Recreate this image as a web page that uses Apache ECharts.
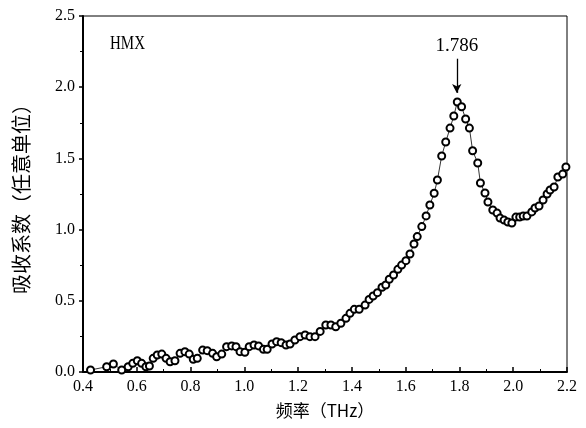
<!DOCTYPE html>
<html>
<head>
<meta charset="utf-8">
<script src="https://cdn.jsdelivr.net/npm/echarts@6/dist/echarts.min.js"></script>
<style>
  html, body { margin: 0; padding: 0; background: #fff; }
  #main { width: 586px; height: 428px; }
</style>
</head>
<body>
<div id="main"></div>
<script>
// 频率 (THz)
var freq = [
  0.428, 0.488, 0.513, 0.544, 0.568, 0.585, 0.602, 0.618, 0.634, 0.647,
  0.661, 0.676, 0.693, 0.709, 0.724, 0.742, 0.761, 0.779, 0.795, 0.810,
  0.825, 0.845, 0.862, 0.882, 0.897, 0.916, 0.934, 0.953, 0.969, 0.984,
  1.002, 1.018, 1.036, 1.053, 1.071, 1.085, 1.103, 1.120, 1.137, 1.155,
  1.170, 1.188, 1.207, 1.226, 1.244, 1.263, 1.282, 1.303, 1.322, 1.340,
  1.359, 1.378, 1.393, 1.409, 1.427, 1.449, 1.464, 1.479, 1.495, 1.512,
  1.526, 1.539, 1.555, 1.571, 1.585, 1.601, 1.616, 1.631, 1.643, 1.660,
  1.676, 1.690, 1.706, 1.718, 1.734, 1.749, 1.765, 1.779, 1.792, 1.808,
  1.823, 1.837, 1.849, 1.868, 1.878, 1.895, 1.906, 1.924, 1.940, 1.951,
  1.966, 1.980, 1.995, 2.010, 2.024, 2.037, 2.051, 2.069, 2.081, 2.096,
  2.111, 2.126, 2.137, 2.152, 2.166, 2.184, 2.196
];
// 吸收系数 (任意单位)
var absorb = [
  0.014, 0.037, 0.056, 0.014, 0.037, 0.061, 0.079, 0.061, 0.037, 0.042,
  0.096, 0.119, 0.126, 0.096, 0.072, 0.079, 0.131, 0.143, 0.126, 0.089,
  0.096, 0.154, 0.150, 0.131, 0.107, 0.126, 0.178, 0.183, 0.178, 0.143,
  0.138, 0.178, 0.190, 0.183, 0.159, 0.159, 0.197, 0.213, 0.206, 0.190,
  0.197, 0.225, 0.248, 0.260, 0.248, 0.248, 0.285, 0.330, 0.330, 0.318,
  0.342, 0.377, 0.412, 0.440, 0.440, 0.470, 0.510, 0.534, 0.557, 0.595,
  0.611, 0.651, 0.681, 0.721, 0.751, 0.782, 0.829, 0.899, 0.951, 1.021,
  1.096, 1.173, 1.255, 1.348, 1.517, 1.615, 1.713, 1.798, 1.896, 1.863,
  1.777, 1.713, 1.554, 1.468, 1.327, 1.257, 1.194, 1.138, 1.116, 1.081,
  1.067, 1.053, 1.046, 1.088, 1.088, 1.095, 1.095, 1.124, 1.152, 1.166,
  1.208, 1.250, 1.278, 1.299, 1.369, 1.390, 1.440
];
var peakFreq = 1.786;
var peakLabel = '1.786';
var sampleName = 'HMX';

var chart = echarts.init(document.getElementById('main'));
var numFont = 'Liberation Serif';
var cjkFont = 'Noto Sans CJK SC';

var points = freq.map(function (f, i) { return [f, absorb[i]]; });

var option = {
  animation: false,
  backgroundColor: '#fff',
  grid: {
    left: 83, right: 19, top: 16, bottom: 56,
    show: true, borderColor: '#000', borderWidth: 1
  },
  graphic: [{
    type: 'text', left: 110, top: 35, scaleY: 1.2,
    style: { text: sampleName, font: '15px "Liberation Serif"', fill: '#000' }
  }],
  xAxis: {
    type: 'value',
    min: 0.4, max: 2.2, interval: 0.2,
    name: '频率（THz）',
    nameLocation: 'middle',
    nameGap: 30,
    nameTextStyle: { fontFamily: cjkFont, fontSize: 17, color: '#000' },
    axisLine: { lineStyle: { color: '#000', width: 2 } },
    axisTick: { inside: true, length: 5, lineStyle: { color: '#000', width: 1.5 } },
    minorTick: { show: true, splitNumber: 2, length: 3, lineStyle: { color: '#000', width: 1 } },
    splitLine: { show: false },
    axisLabel: {
      color: '#000', fontFamily: numFont, fontSize: 16, margin: 7,
      formatter: function (v) { return v.toFixed(1); }
    }
  },
  yAxis: {
    type: 'value',
    min: 0, max: 2.5, interval: 0.5,
    name: '吸收系数（任意单位）',
    nameLocation: 'middle',
    nameGap: 52,
    nameTextStyle: { fontFamily: cjkFont, fontSize: 20, color: '#000' },
    axisLine: { lineStyle: { color: '#000', width: 2 } },
    axisTick: { inside: false, length: 4, lineStyle: { color: '#000', width: 1.5 } },
    minorTick: { show: true, splitNumber: 2, length: 3, lineStyle: { color: '#000', width: 1 } },
    splitLine: { show: false },
    axisLabel: {
      color: '#000', fontFamily: numFont, fontSize: 16, margin: 8,
      formatter: function (v) { return v.toFixed(1); }
    }
  },
  series: [{
    type: 'line',
    data: points,
    symbol: 'emptyCircle',
    symbolSize: 7,
    showAllSymbol: true,
    itemStyle: { color: '#000', borderWidth: 1.2 },
    lineStyle: { color: '#000', width: 0.8 },
    markLine: {
      silent: true,
      symbol: ['none', 'arrow'],
      symbolSize: [7, 9],
      lineStyle: { color: '#000', width: 1.3, type: 'solid' },
      label: { show: false },
      data: [[{ coord: [1.79, 2.2] }, { coord: [1.79, 1.96] }]]
    },
    markPoint: {
      silent: true,
      symbol: 'circle',
      symbolSize: 0,
      label: {
        show: true, formatter: peakLabel, color: '#000',
        fontFamily: numFont, fontSize: 19
      },
      data: [{ coord: [1.79, 2.29] }]
    }
  }]
};
chart.setOption(option);
</script>
</body>
</html>
